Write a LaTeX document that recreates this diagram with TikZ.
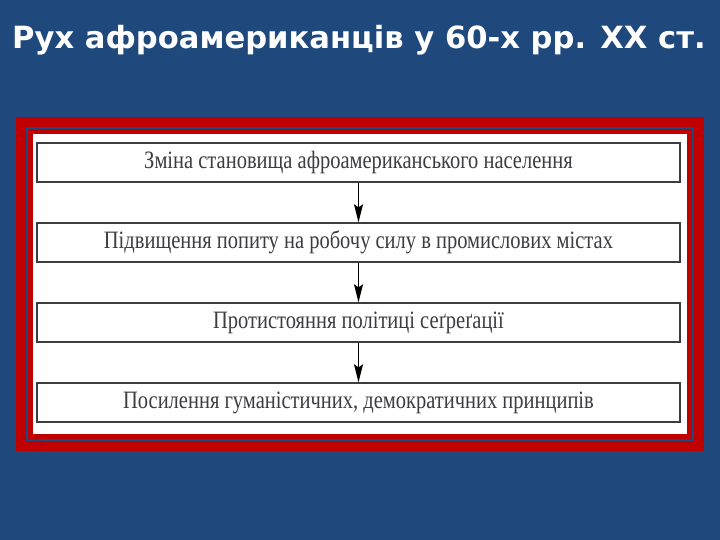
\documentclass[tikz,border=0pt]{standalone}
\usepackage{fontspec}
\setmainfont{Liberation Serif}
\newfontfamily\boxfont[FakeStretch=0.82]{Liberation Serif}
\newfontfamily\titlefont{DejaVu Sans}
\usetikzlibrary{arrows.meta}
\definecolor{slideblue}{RGB}{31,73,125}
\definecolor{framered}{RGB}{192,0,0}
\definecolor{boxgray}{RGB}{60,60,66}

\begin{document}
\begin{tikzpicture}[x=1pt,y=-1pt,
  stepbox/.style={draw=boxgray,line width=1.3pt,fill=white,minimum width=643pt,minimum height=39pt,inner sep=0pt,text=boxgray,font=\boxfont\fontsize{25}{27}\selectfont},
  flow/.style={draw=black,line width=1.2pt,-{Stealth[length=18pt,width=9pt,inset=3pt]}}]
\useasboundingbox (0,0) rectangle (720,540);
\fill[slideblue] (0,0) rectangle (720,540);
\node[anchor=base west,inner sep=0pt,text=white,font=\titlefont\bfseries\fontsize{30.6}{32}\selectfont] (title) at (12,49) {Рух афроамериканців у 60-х рр. ХХ ст.};
\fill[framered] (16,117) rectangle (704,451);
\draw[slideblue,line width=2.2pt] (27,128) rectangle (693,440);
\fill[white] (33,134) rectangle (687,434);
\foreach \i/\txt in {1/{Зміна становища афроамериканського населення},
                     2/{Підвищення попиту на робочу силу в промислових містах},
                     3/{Протистояння політиці сеґреґації},
                     4/{Посилення гуманістичних, демократичних принципів}}{
  \node[stepbox] at (358.5,82.5+\i*80) (box-\i) {\txt};
};
\foreach \i [evaluate=\i as \j using int(\i+1)] in {1,2,3}{
  \draw[flow] (box-\i) -- (box-\j);
};
\end{tikzpicture}
\end{document}
